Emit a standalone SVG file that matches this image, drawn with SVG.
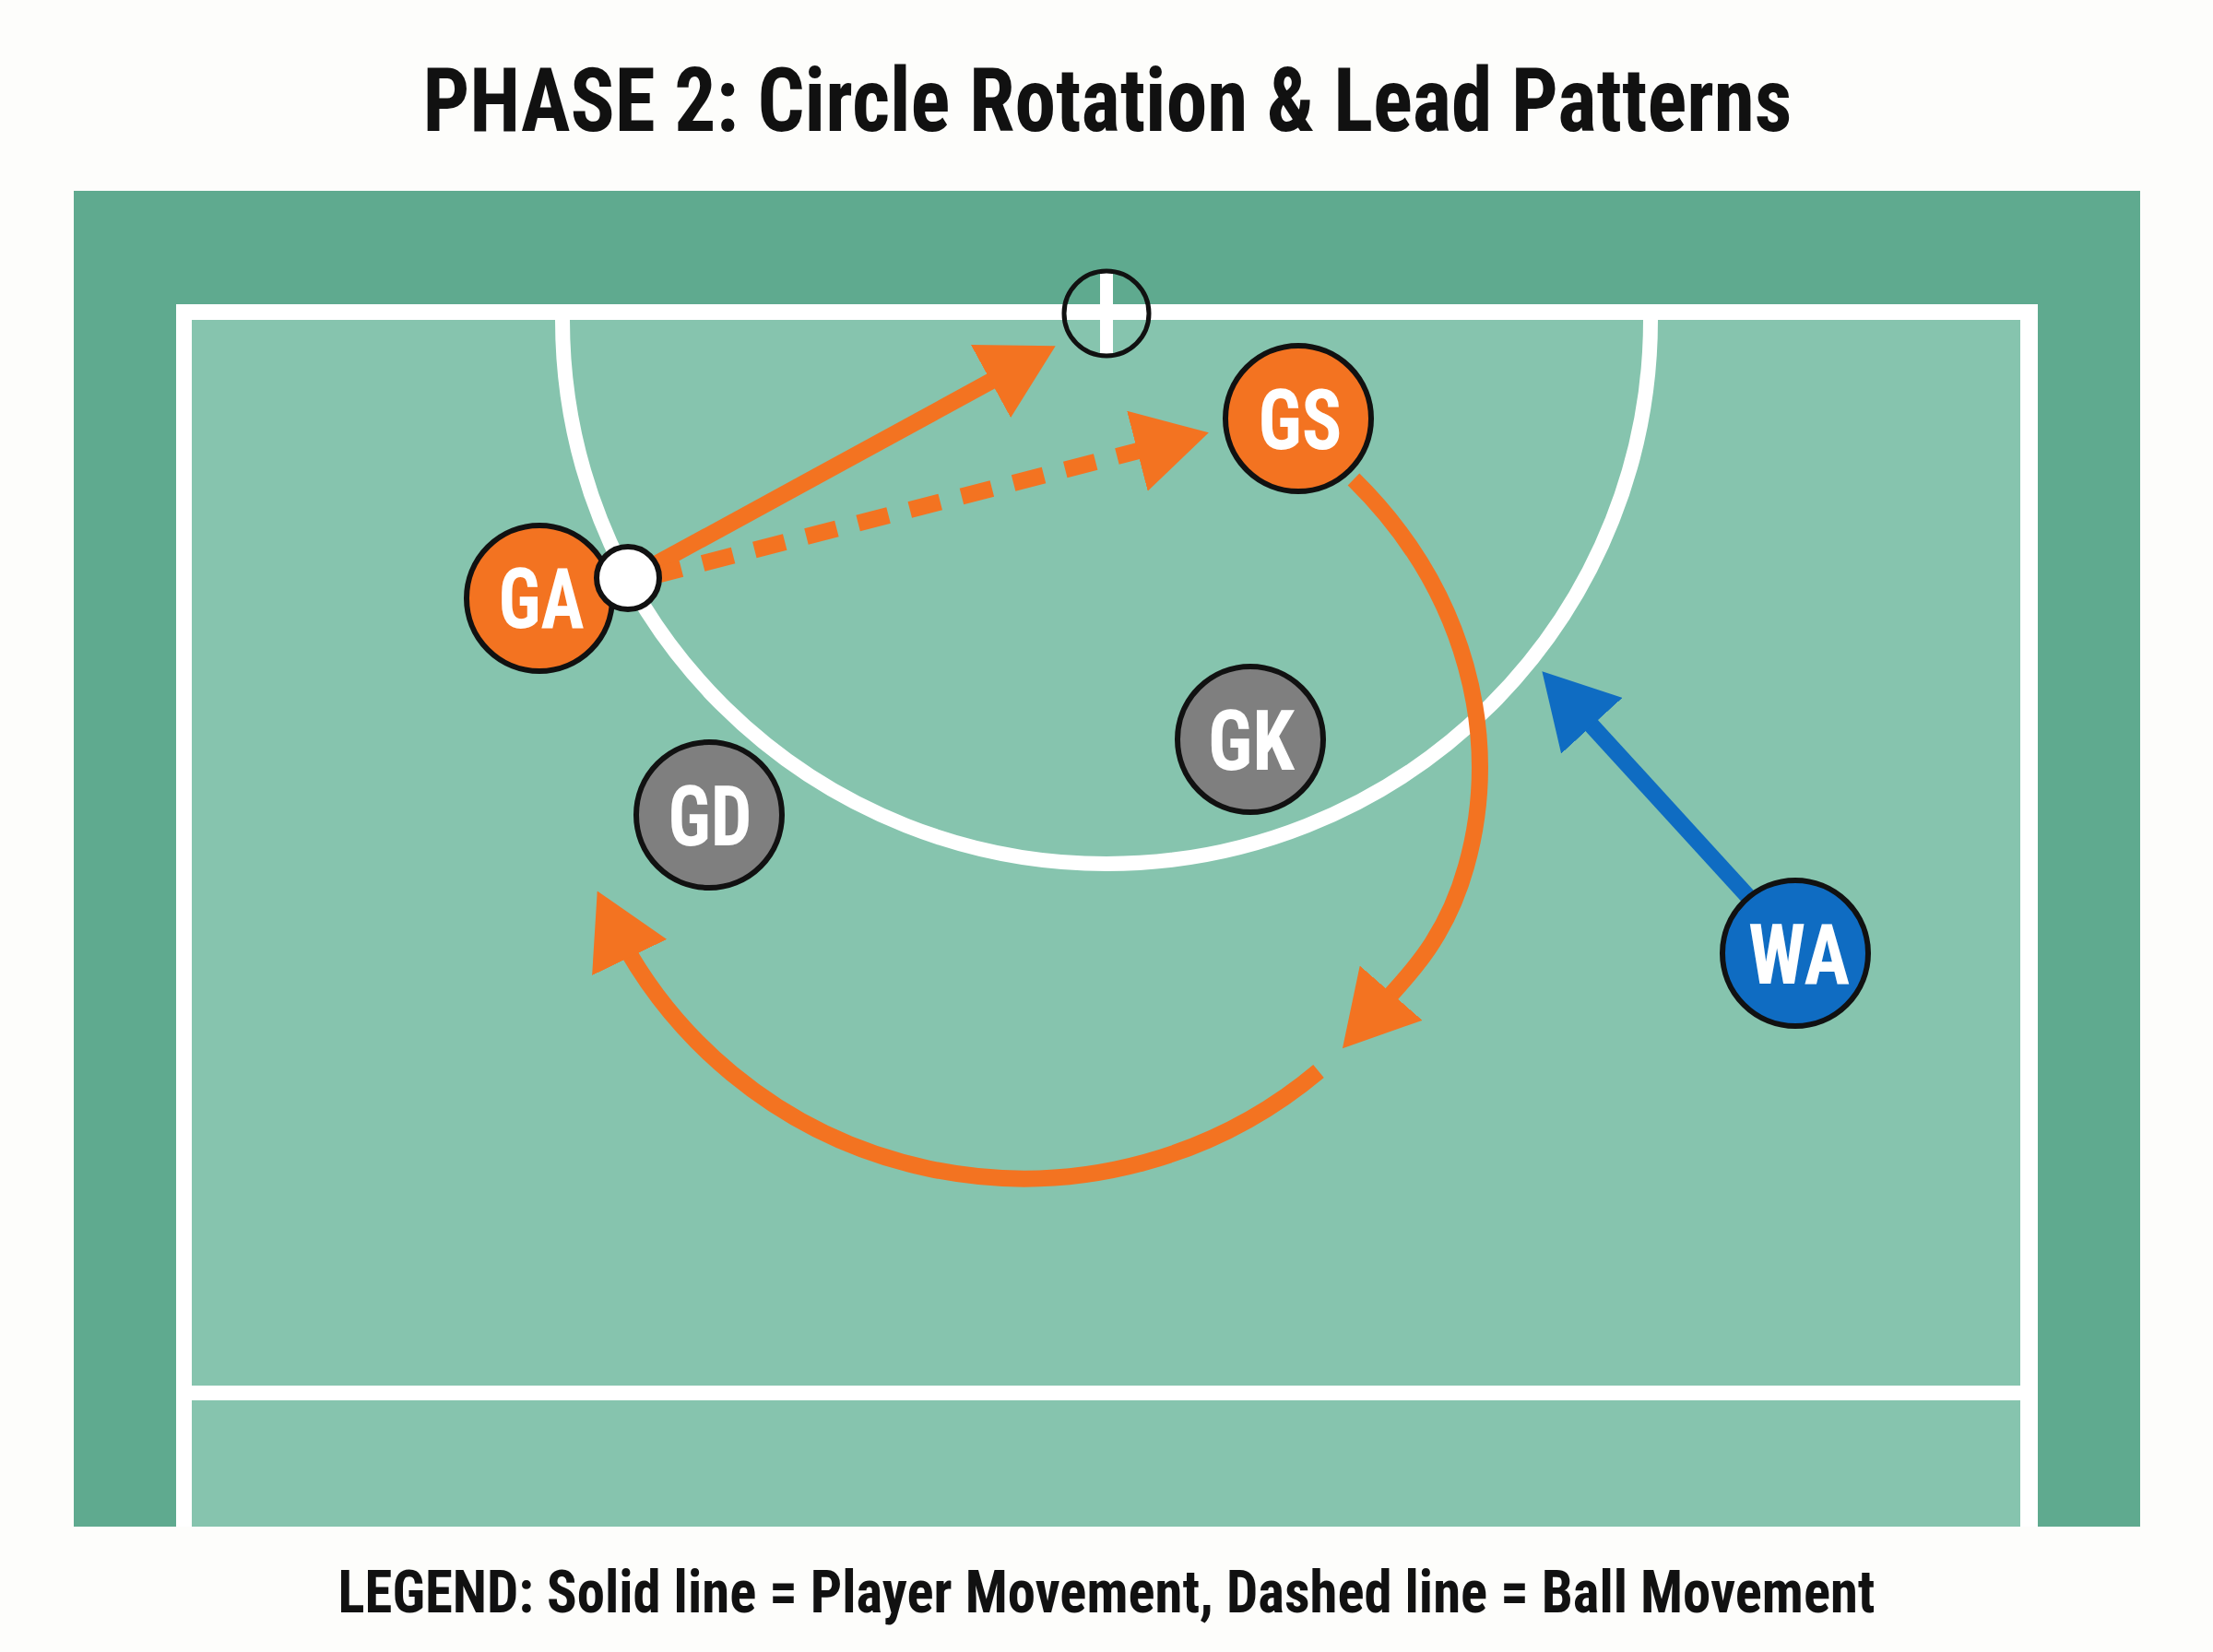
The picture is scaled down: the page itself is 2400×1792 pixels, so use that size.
<svg xmlns="http://www.w3.org/2000/svg" width="2400" height="1792" viewBox="0 0 2400 1792">
  <defs>
    <style>
      .title { font-family: "Liberation Sans Narrow", "Roboto Condensed", "DejaVu Sans Condensed", "Liberation Sans", sans-serif; font-weight: bold; fill: #111111; }
      .lbl { font-family: "Liberation Sans Narrow", "Roboto Condensed", "DejaVu Sans Condensed", "Liberation Sans", sans-serif; font-weight: bold; fill: #ffffff; font-size: 90px; text-anchor: middle; }
      .line { fill: none; stroke: #ffffff; }
      .orange { fill: #F37321; stroke: #111111; stroke-width: 6; }
      .grey { fill: #7F7F7F; stroke: #111111; stroke-width: 6; }
      .blue { fill: #0F6CC2; stroke: #111111; stroke-width: 6; }
      .mv { fill: none; stroke: #F37321; stroke-width: 18; }
      .mvb { fill: none; stroke: #0F6CC2; stroke-width: 18; }
    </style>
    <marker id="ah-o" markerUnits="userSpaceOnUse" viewBox="0 0 80 90" markerWidth="80" markerHeight="90" refX="45" refY="45" orient="auto">
      <path d="M0,0 L80,45 L0,90 Z" fill="#F37321"/>
    </marker>
    <marker id="ah-b" markerUnits="userSpaceOnUse" viewBox="0 0 80 90" markerWidth="80" markerHeight="90" refX="45" refY="45" orient="auto">
      <path d="M0,0 L80,45 L0,90 Z" fill="#0F6CC2"/>
    </marker>
  </defs>

  <rect x="0" y="0" width="2400" height="1792" fill="#FDFDFB"/>

  <text class="title" x="1201" y="142" font-size="97" text-anchor="middle" textLength="1485" lengthAdjust="spacingAndGlyphs">PHASE 2: Circle Rotation &amp; Lead Patterns</text>

  <g id="court">
    <rect x="80" y="207" width="2241" height="1449" fill="#5FAA8F"/>
    <rect x="191" y="330" width="2019" height="1326" fill="#ffffff"/>
    <rect x="208" y="347" width="1983" height="1309" fill="#86C4AE"/>
    <rect x="208" y="1503" width="1983" height="16" fill="#ffffff"/>
    <path class="line" stroke-width="16" d="M610,347 A590,590 0 1 0 1790,347"/>
  </g>

  <g id="goal">
    <line x1="1200" y1="294" x2="1200" y2="386" stroke="#ffffff" stroke-width="14"/>
    <circle cx="1200" cy="340" r="46" fill="none" stroke="#111111" stroke-width="5"/>
  </g>

  <g id="connectors">
    <path class="mv" d="M700,618 L1114,392" marker-end="url(#ah-o)"/>
    <path class="mv" stroke-width="22" stroke-dasharray="34 24" d="M706,625.5 L1277,478" marker-end="url(#ah-o)"/>
    <path class="mv" d="M1468,520 C1590,640 1630,800 1590,940 C1565,1030 1514,1071 1479,1111" marker-end="url(#ah-o)"/>
    <path class="mv" d="M1430,1162 A497,497 0 0 1 663,998" marker-end="url(#ah-o)"/>
    <path class="mvb" d="M1930,1010 L1696,754" marker-end="url(#ah-b)"/>
  </g>

  <g id="node-GA">
    <circle class="orange" cx="585" cy="649" r="79"/>
    <text class="lbl" x="587" y="681" textLength="93" lengthAdjust="spacingAndGlyphs">GA</text>
  </g>
  <g id="ball">
    <circle cx="681" cy="627" r="34" fill="#ffffff" stroke="#111111" stroke-width="6"/>
  </g>
  <g id="node-GS">
    <circle class="orange" cx="1408" cy="454" r="79"/>
    <text class="lbl" x="1410" y="487" textLength="91" lengthAdjust="spacingAndGlyphs">GS</text>
  </g>
  <g id="node-GK">
    <circle class="grey" cx="1356" cy="802" r="79"/>
    <text class="lbl" x="1357" y="835" textLength="94" lengthAdjust="spacingAndGlyphs">GK</text>
  </g>
  <g id="node-GD">
    <circle class="grey" cx="769" cy="884" r="79"/>
    <text class="lbl" x="770" y="917" textLength="91" lengthAdjust="spacingAndGlyphs">GD</text>
  </g>
  <g id="node-WA">
    <circle class="blue" cx="1947" cy="1034" r="79"/>
    <text class="lbl" x="1951" y="1067" textLength="110" lengthAdjust="spacingAndGlyphs">WA</text>
  </g>

  <text class="title" x="1200" y="1749" font-size="65" text-anchor="middle" textLength="1667" lengthAdjust="spacingAndGlyphs">LEGEND: Solid line = Player Movement, Dashed line = Ball Movement</text>
</svg>
